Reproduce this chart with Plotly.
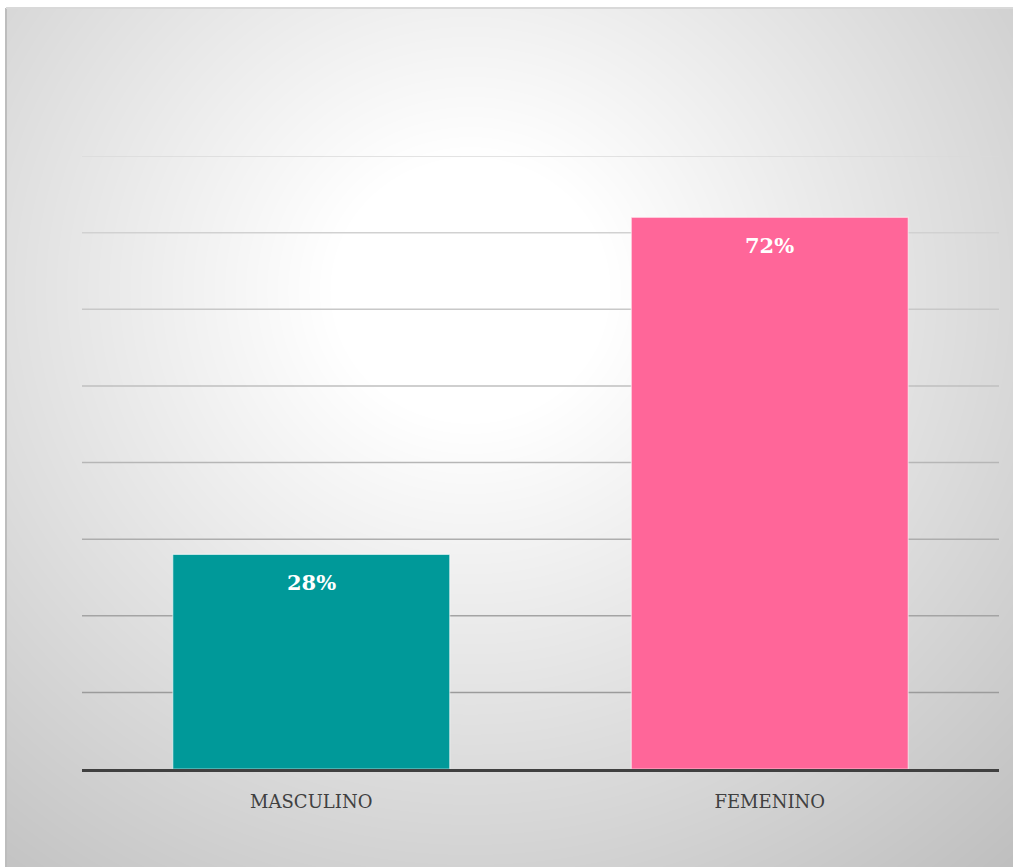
import base64
import struct
import zlib

import numpy as np
import plotly.graph_objects as go

# Data
categories = ["MASCULINO", "FEMENINO"]
percentages = [28, 72]
bar_colors = ["#009999", "#FF6699"]
grid_values = [10, 20, 30, 40, 50, 60, 70, 80]

W, H = 1013, 867


def gray_png(arr):
    """Encode a 2-D uint8 array as a greyscale PNG data URI."""
    h, w = arr.shape
    raw = b"".join(b"\x00" + arr[i].tobytes() for i in range(h))

    def chunk(tag, data):
        c = struct.pack(">I", len(data)) + tag + data
        return c + struct.pack(">I", zlib.crc32(tag + data) & 0xFFFFFFFF)

    png = b"\x89PNG\r\n\x1a\n"
    png += chunk(b"IHDR", struct.pack(">IIBBBBB", w, h, 8, 0, 0, 0, 0))
    png += chunk(b"IDAT", zlib.compress(raw, 9))
    png += chunk(b"IEND", b"")
    return "data:image/png;base64," + base64.b64encode(png).decode()


# Radial light-to-grey background for the chart frame
fx0, fy0 = 6, 8
fw, fh = W - fx0, H - fy0
yy, xx = np.mgrid[0:fh, 0:fw]
cx, cy = 470 - fx0, 290 - fy0
d = np.sqrt(((xx - cx) * 1.0) ** 2 + ((yy - cy) * 1.05) ** 2)
shade = 255 - np.clip(0.095 * (d - 140), 0, None)
bg = np.clip(shade, 190, 255).astype(np.uint8)
bg_uri = gray_png(bg)

# Plot area geometry
x_dom = [82 / W, 999 / W]
y_dom = [(H - 769) / H, (H - 156) / H]

fig = go.Figure()
fig.add_trace(
    go.Bar(
        x=categories,
        y=percentages,
        marker=dict(color=bar_colors, line=dict(color="rgba(255,255,255,0.55)", width=1.2)),
        hoverinfo="skip",
    )
)

# Value labels inside the top of each bar
for cat, val in zip(categories, percentages):
    fig.add_annotation(
        x=cat, y=val, text=f"<b>{val}%</b>", showarrow=False,
        yanchor="top", yshift=-14,
        font=dict(family="DejaVu Serif", size=21, color="white"),
    )

# Horizontal gridlines, darker toward the baseline
g_lo, g_hi = 155, 218
for v in grid_values:
    t = (v - grid_values[0]) / (grid_values[-1] - grid_values[0])
    g = int(round(g_lo + t * (g_hi - g_lo)))
    fig.add_shape(
        type="line", xref="paper", yref="y",
        x0=x_dom[0], x1=x_dom[1], y0=v, y1=v,
        line=dict(color=f"rgb({g},{g},{g})", width=1.5),
        layer="below",
    )

# Frame edges
fig.add_shape(type="line", xref="paper", yref="paper",
              x0=fx0 / W, x1=fx0 / W, y0=0, y1=1 - fy0 / H,
              line=dict(color="#bdbdbd", width=2))
fig.add_shape(type="line", xref="paper", yref="paper",
              x0=fx0 / W, x1=1, y0=1 - fy0 / H, y1=1 - fy0 / H,
              line=dict(color="#d9d9d9", width=2))

fig.add_layout_image(
    source=bg_uri, xref="paper", yref="paper",
    x=fx0 / W, y=1 - fy0 / H, sizex=fw / W, sizey=fh / H,
    xanchor="left", yanchor="top", sizing="stretch", layer="below",
)

fig.update_layout(
    width=W, height=H,
    margin=dict(l=0, r=0, t=0, b=0),
    paper_bgcolor="white",
    plot_bgcolor="rgba(0,0,0,0)",
    bargap=0.396,
    showlegend=False,
    xaxis=dict(
        domain=x_dom,
        showline=True, linecolor="#404040", linewidth=3,
        showgrid=False, ticks="", ticklabelstandoff=14,
        tickfont=dict(family="DejaVu Serif", size=18, color="#404040"),
        fixedrange=True,
    ),
    yaxis=dict(
        domain=y_dom, range=[0, 80],
        showgrid=False, zeroline=False, showticklabels=False,
        fixedrange=True,
    ),
)

fig.write_html("out.html")
